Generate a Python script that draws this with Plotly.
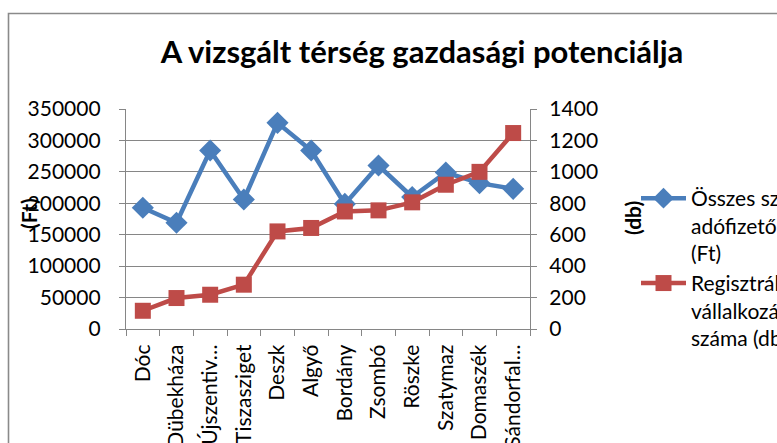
import plotly.graph_objects as go

categories = ["Dóc", "Dübekháza", "Újszentiv…", "Tiszasziget", "Deszk", "Algyő",
              "Bordány", "Zsombó", "Röszke", "Szatymaz", "Domaszék", "Sándorfal…"]
ossz_ft = [193000, 169000, 284000, 206000, 328000, 284000,
           199000, 260000, 210000, 249000, 232000, 223000]
vall_db = [116, 197, 218, 282, 621, 643, 748, 755, 806, 918, 1000, 1247]

name_ft = "Összes szja-<br>adófizetők<br>(Ft)"
name_db = "Regisztrált<br>vállalkozások<br>száma (db)"
title = "A vizsgált térség gazdasági potenciálja"

BLUE = "#4A7EBB"
RED = "#BE4B48"
GRID = "#868686"
FONT = "Lato"

W, H = 777, 443
L, R, T, B = 126, 530, 109, 329

def px(x):
    return (x - L) / (R - L)

def py(y):
    return (B - y) / (B - T)

fig = go.Figure()
fig.add_trace(go.Scatter(
    x=categories, y=ossz_ft, name=name_ft, mode="lines+markers",
    line=dict(color=BLUE, width=4.5),
    marker=dict(symbol="diamond", size=17, color=BLUE),
))
fig.add_trace(go.Scatter(
    x=categories, y=vall_db, name=name_db, mode="lines+markers", yaxis="y2",
    line=dict(color=RED, width=4.5),
    marker=dict(symbol="square", size=16, color=RED),
))

axis_common = dict(
    showline=True, linecolor=GRID, linewidth=1.3,
    ticks="outside", ticklen=6, tickcolor=GRID, tickwidth=1.3,
    tickfont=dict(family=FONT, size=21, color="black"),
)

fig.update_layout(
    width=W, height=H,
    margin=dict(l=L, r=W - R, t=T, b=H - B, autoexpand=False),
    paper_bgcolor="white", plot_bgcolor="white",
    font=dict(family=FONT, color="black"),
    title=dict(text="<b>" + title + "</b>", x=px(422), xref="paper", xanchor="center",
               y=1 - 52 / H, yanchor="middle",
               font=dict(family=FONT, size=31, color="black")),
    xaxis=dict(**axis_common, tickson="boundaries", tickangle=-90,
               range=[-0.5, len(categories) - 0.5],
               showgrid=False, ticklabelstandoff=6),
    yaxis=dict(**axis_common, range=[0, 350000], dtick=50000, tickformat="d",
               showgrid=True, gridcolor=GRID, gridwidth=1.3, zeroline=False,
               ticklabelstandoff=14),
    yaxis2=dict(**axis_common, range=[0, 1400], dtick=200, tickformat="d",
                overlaying="y", side="right", showgrid=False, zeroline=False,
                ticklabelstandoff=8),
    showlegend=True,
    legend=dict(x=px(636), xanchor="left", y=py(178), yanchor="top",
                font=dict(family=FONT, size=21, color="black"),
                valign="top", itemwidth=45, bgcolor="rgba(0,0,0,0)",
                tracegroupgap=0),
    annotations=[
        dict(text="<b>(Ft)</b>", x=px(28), y=py(214), xref="paper", yref="paper",
             xanchor="center", yanchor="middle",
             textangle=-90, showarrow=False, font=dict(family=FONT, size=21)),
        dict(text="<b>(db)</b>", x=px(632), y=py(218), xref="paper", yref="paper",
             xanchor="center", yanchor="middle",
             textangle=-90, showarrow=False, font=dict(family=FONT, size=21)),
    ],
    shapes=[
        dict(type="rect", xref="paper", yref="paper",
             x0=px(8.5), y0=py(460), x1=px(800), y1=py(13.5),
             line=dict(color="#8A8A8A", width=1.6), fillcolor="rgba(0,0,0,0)",
             layer="below"),
    ],
)

fig.write_html("out.html", config={"displayModeBar": False},
               post_script="document.body.style.margin='0px';document.body.style.padding='0px';")
